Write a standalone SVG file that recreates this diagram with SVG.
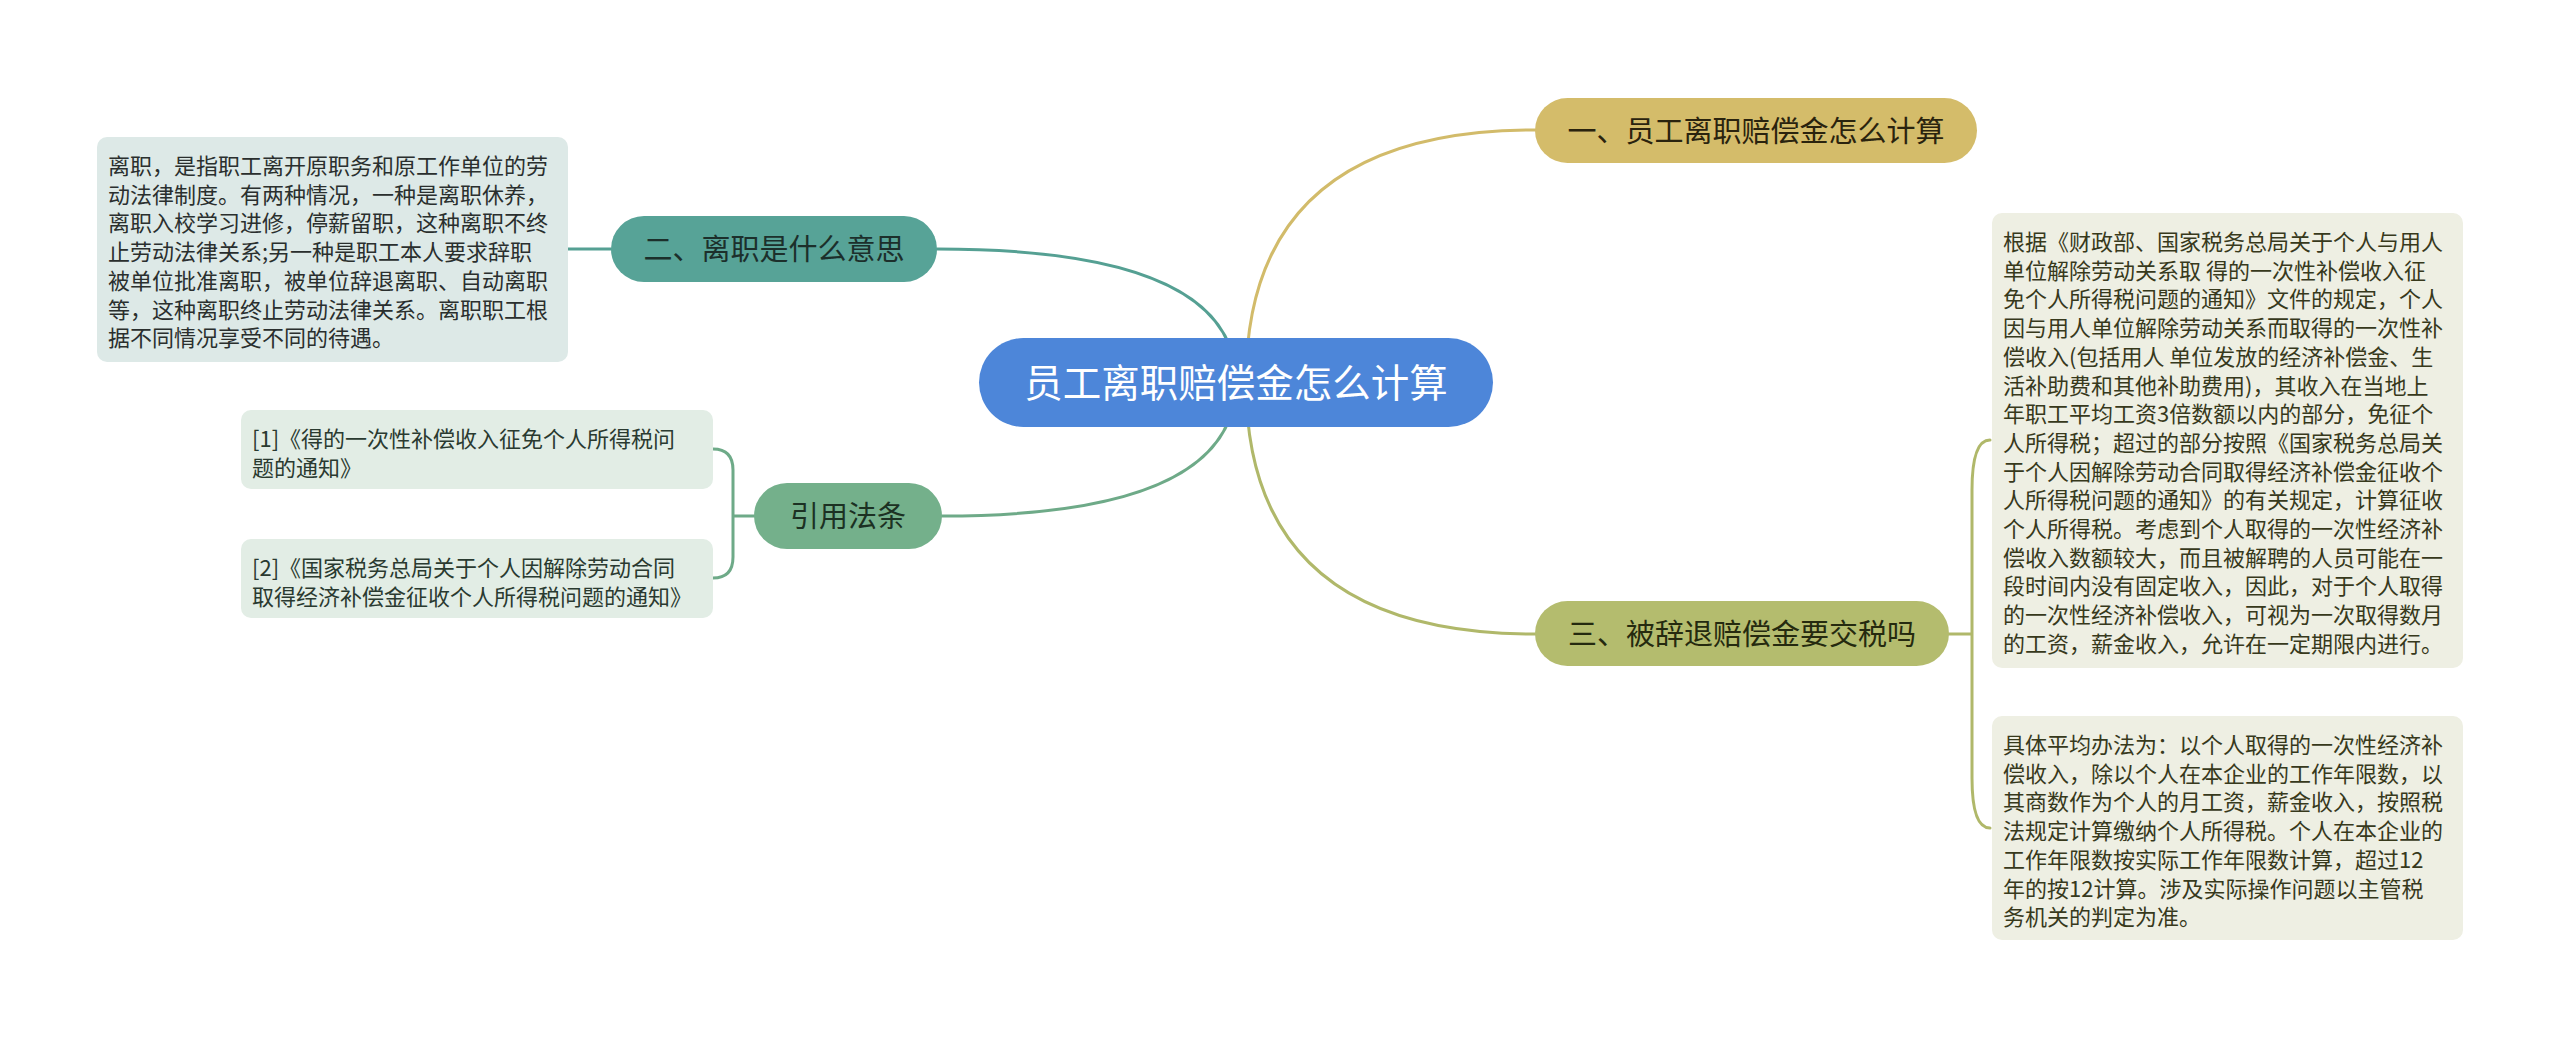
<svg xmlns="http://www.w3.org/2000/svg" width="2560" height="1037" viewBox="0 0 2560 1037">
<style>
  text { font-family: "Noto Sans CJK SC", "Noto Sans", sans-serif; }
  .node-text { font-size: 29px; text-anchor: middle; }
  .body { font-size: 22px; }
  .conn { fill: none; stroke-width: 3; stroke-linecap: round; }
</style>
<rect x="0" y="0" width="2560" height="1037" fill="#ffffff"/>
<g id="connectors">
  <path class="conn" stroke="#55a093" d="M 1236 382 Q 1236 249 937 249"/>
  <path class="conn" stroke="#6eaa88" d="M 1236 382 Q 1236 516 942 516"/>
  <path class="conn" stroke="#d2bb6a" d="M 1246 382 Q 1246 130 1535 130"/>
  <path class="conn" stroke="#b0b86a" d="M 1246 382 Q 1246 634 1535 634"/>
  <path class="conn" stroke="#55a093" d="M 568 249 L 611 249"/>
  <path class="conn" stroke="#6eaa88" d="M 713 449 Q 733 449 733 470 L 733 557 Q 733 578 713 578 M 733 516 L 754 516"/>
  <path class="conn" stroke="#b0b86a" d="M 1990 440 Q 1972 440 1972 490 L 1972 778 Q 1972 828 1990 828 M 1949 634 L 1972 634"/>
</g>
<g id="node-center">
  <rect x="979" y="338" width="514" height="89" rx="44.5" fill="#4d86d9"/>
  <text x="1236" y="397" font-size="38.5" text-anchor="middle" fill="#ffffff">员工离职赔偿金怎么计算</text>
</g>
<g id="node-2">
  <rect x="611" y="216" width="326" height="66" rx="33" fill="#57a397"/>
  <text class="node-text" x="774" y="260" fill="#1c2f2b">二、离职是什么意思</text>
</g>
<g id="node-2-detail">
  <rect x="97" y="137" width="471" height="225" rx="10" fill="#dde9e7"/>
  <text class="body" fill="#2a2f2e">
    <tspan x="108" y="174">离职，是指职工离开原职务和原工作单位的劳</tspan>
    <tspan x="108" y="202.7">动法律制度。有两种情况，一种是离职休养，</tspan>
    <tspan x="108" y="231.4">离职入校学习进修，停薪留职，这种离职不终</tspan>
    <tspan x="108" y="260.1">止劳动法律关系;另一种是职工本人要求辞职</tspan>
    <tspan x="108" y="288.8">被单位批准离职，被单位辞退离职、自动离职</tspan>
    <tspan x="108" y="317.5">等，这种离职终止劳动法律关系。离职职工根</tspan>
    <tspan x="108" y="346.2">据不同情况享受不同的待遇。</tspan>
  </text>
</g>
<g id="node-refs">
  <rect x="754" y="483" width="188" height="66" rx="33" fill="#74b08b"/>
  <text class="node-text" x="848" y="527" fill="#1c3123">引用法条</text>
</g>
<g id="node-ref-1">
  <rect x="241" y="410" width="472" height="79" rx="10" fill="#e2ede5"/>
  <text class="body" fill="#2a3a30">
    <tspan x="252" y="447">[1]《得的一次性补偿收入征免个人所得税问</tspan>
    <tspan x="252" y="475.7">题的通知》</tspan>
  </text>
</g>
<g id="node-ref-2">
  <rect x="241" y="539" width="472" height="79" rx="10" fill="#e2ede5"/>
  <text class="body" fill="#2a3a30">
    <tspan x="252" y="576">[2]《国家税务总局关于个人因解除劳动合同</tspan>
    <tspan x="252" y="604.7">取得经济补偿金征收个人所得税问题的通知》</tspan>
  </text>
</g>
<g id="node-1">
  <rect x="1535" y="98" width="442" height="65" rx="32.5" fill="#d4bc6a"/>
  <text class="node-text" x="1756" y="141.5" fill="#2a230e">一、员工离职赔偿金怎么计算</text>
</g>
<g id="node-3">
  <rect x="1535" y="601" width="414" height="65" rx="32.5" fill="#b4bc6e"/>
  <text class="node-text" x="1742" y="644.5" fill="#252a0f">三、被辞退赔偿金要交税吗</text>
</g>
<g id="node-3-detail-1">
  <rect x="1992" y="213" width="471" height="455" rx="10" fill="#eeefe3"/>
  <text class="body" fill="#37391c">
    <tspan x="2003" y="250">根据《财政部、国家税务总局关于个人与用人</tspan>
    <tspan x="2003" y="278.7">单位解除劳动关系取 得的一次性补偿收入征</tspan>
    <tspan x="2003" y="307.4">免个人所得税问题的通知》文件的规定，个人</tspan>
    <tspan x="2003" y="336.1">因与用人单位解除劳动关系而取得的一次性补</tspan>
    <tspan x="2003" y="364.8">偿收入(包括用人 单位发放的经济补偿金、生</tspan>
    <tspan x="2003" y="393.5">活补助费和其他补助费用)，其收入在当地上</tspan>
    <tspan x="2003" y="422.2">年职工平均工资3倍数额以内的部分，免征个</tspan>
    <tspan x="2003" y="450.9">人所得税；超过的部分按照《国家税务总局关</tspan>
    <tspan x="2003" y="479.6">于个人因解除劳动合同取得经济补偿金征收个</tspan>
    <tspan x="2003" y="508.3">人所得税问题的通知》的有关规定，计算征收</tspan>
    <tspan x="2003" y="537">个人所得税。考虑到个人取得的一次性经济补</tspan>
    <tspan x="2003" y="565.7">偿收入数额较大，而且被解聘的人员可能在一</tspan>
    <tspan x="2003" y="594.4">段时间内没有固定收入，因此，对于个人取得</tspan>
    <tspan x="2003" y="623.1">的一次性经济补偿收入，可视为一次取得数月</tspan>
    <tspan x="2003" y="651.8">的工资，薪金收入，允许在一定期限内进行。</tspan>
  </text>
</g>
<g id="node-3-detail-2">
  <rect x="1992" y="716" width="471" height="224" rx="10" fill="#eeefe3"/>
  <text class="body" fill="#37391c">
    <tspan x="2003" y="753">具体平均办法为：以个人取得的一次性经济补</tspan>
    <tspan x="2003" y="781.7">偿收入，除以个人在本企业的工作年限数，以</tspan>
    <tspan x="2003" y="810.4">其商数作为个人的月工资，薪金收入，按照税</tspan>
    <tspan x="2003" y="839.1">法规定计算缴纳个人所得税。个人在本企业的</tspan>
    <tspan x="2003" y="867.8">工作年限数按实际工作年限数计算，超过12</tspan>
    <tspan x="2003" y="896.5">年的按12计算。涉及实际操作问题以主管税</tspan>
    <tspan x="2003" y="925.2">务机关的判定为准。</tspan>
  </text>
</g>
</svg>
